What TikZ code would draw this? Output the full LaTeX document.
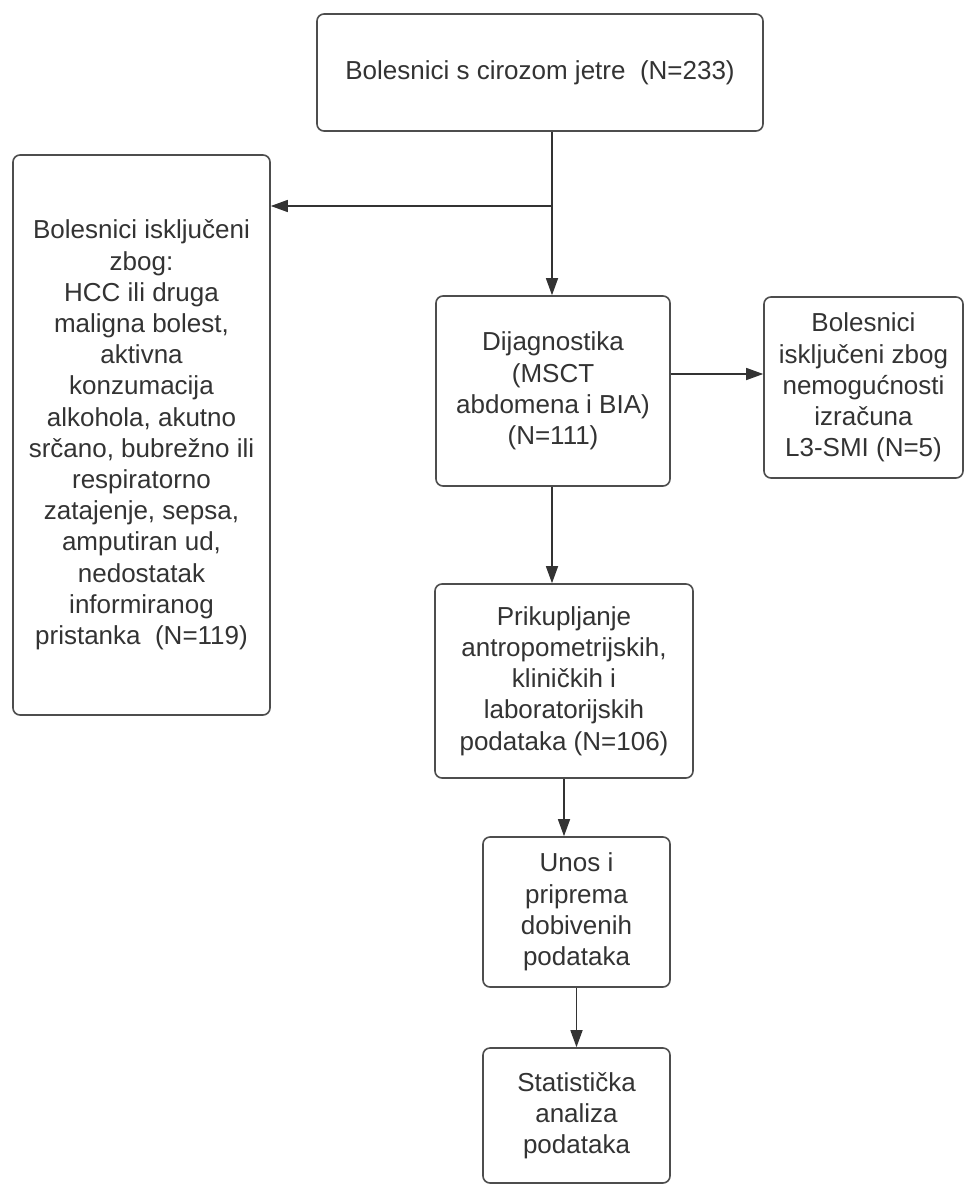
\documentclass[tikz,border=0pt]{standalone}
\usepackage{fontspec}
\setmainfont{Liberation Sans}
\usetikzlibrary{arrows.meta}
\definecolor{txt}{HTML}{333333}
\definecolor{brd}{HTML}{4D4D4D}
\definecolor{ln}{HTML}{333333}
\begin{document}
\begin{tikzpicture}[x=1pt,y=-1pt,
  box/.style={draw=brd, line width=1.6pt, rounded corners=7pt, fill=white,
    text=txt, align=center, inner sep=0pt,
    font=\fontsize{26}{31.2}\selectfont},
  arr/.style={draw=ln, line width=1.4pt,
    -{Triangle[length=17pt,width=12pt]}}]
\fill[white] (0,0) rectangle (966,1186);
\useasboundingbox (0,0) rectangle (966,1186);
\node[box, minimum width=446pt, minimum height=117pt] (top) at (540,72.5)
  {Bolesnici s cirozom jetre\ \ (N=233)};
\node[box, minimum width=257pt, minimum height=560pt] (left) at (141.5,435)
  {Bolesnici isključeni\\zbog:\\HCC ili druga\\maligna bolest,\\aktivna\\konzumacija\\alkohola, akutno\\srčano, bubrežno ili\\respiratorno\\zatajenje, sepsa,\\amputiran ud,\\nedostatak\\informiranog\\pristanka\ \ (N=119)};
\node[box, minimum width=234pt, minimum height=190pt] (dij) at (553,391)
  {Dijagnostika\\(MSCT\\abdomena i BIA)\\(N=111)};
\node[box, minimum width=199pt, minimum height=181pt] (right) at (863.5,387.5)
  {Bolesnici\\isključeni zbog\\nemogućnosti\\izračuna\\L3-SMI (N=5)};
\node[box, minimum width=258pt, minimum height=194pt] (prik) at (564,681)
  {Prikupljanje\\antropometrijskih,\\kliničkih i\\laboratorijskih\\podataka (N=106)};
\node[box, minimum width=187pt, minimum height=150pt] (unos) at (576.5,912)
  {Unos i\\priprema\\dobivenih\\podataka};
\node[box, minimum width=187pt, minimum height=135pt] (stat) at (576.5,1115.5)
  {Statistička\\analiza\\podataka};
\coordinate (br) at (552,206);
\draw[arr] (br |- top.south) -- (br |- dij.north);
\draw[arr] (br) -- (left.east |- br);
\coordinate (rr) at (0,374);
\draw[arr] (dij.east |- rr) -- (right.west |- rr);
\draw[arr] (br |- dij.south) -- (br |- prik.north);
\draw[arr] (prik.south) -- (prik.south |- unos.north);
\draw[arr] (unos.south) -- (unos.south |- stat.north);
\end{tikzpicture}
\end{document}
